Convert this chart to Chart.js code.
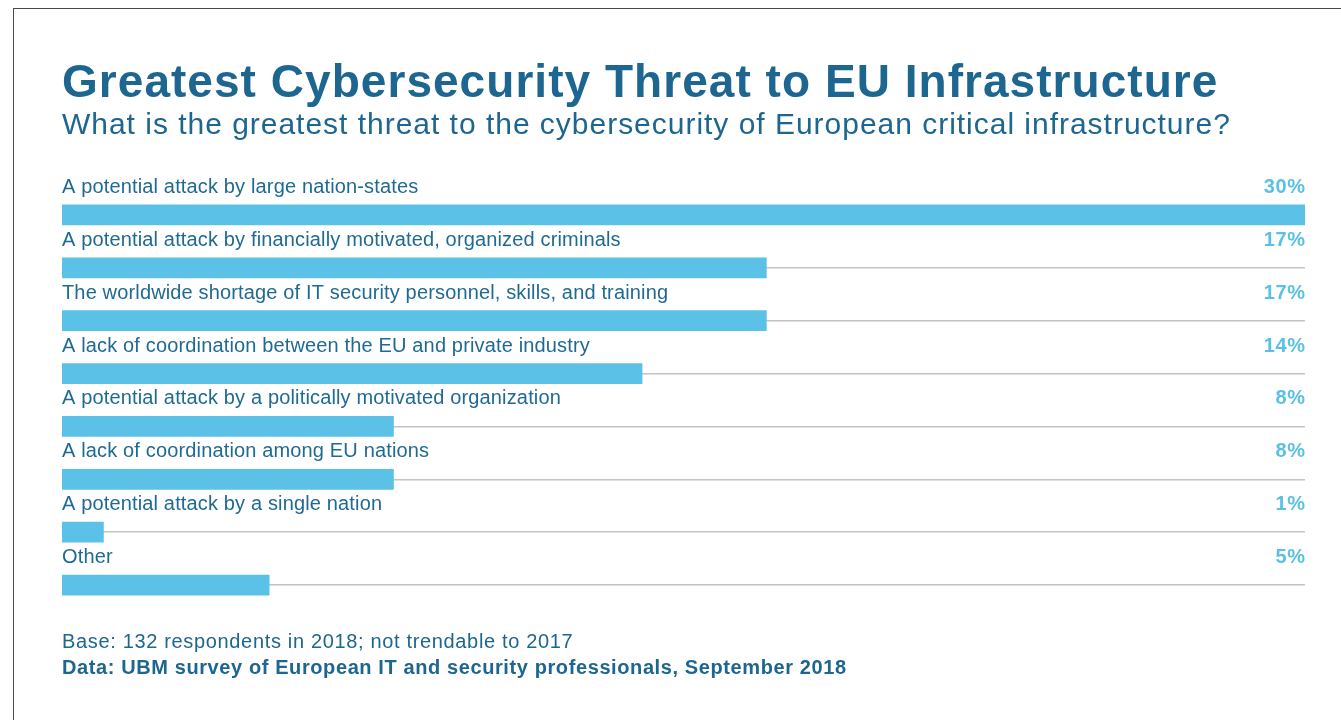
<!DOCTYPE html>
<html>
<head>
<meta charset="utf-8">
<script src="https://cdn.jsdelivr.net/npm/chart.js@4.4.1/dist/chart.umd.min.js"></script>
<style>
  html, body { margin: 0; padding: 0; background: #ffffff; }
  body { width: 1341px; height: 720px; position: relative; overflow: hidden;
         font-family: "Liberation Sans", Arial, Helvetica, sans-serif; }
  #frame { position: absolute; left: 13px; top: 8px; width: 1400px; height: 800px;
           border-left: 1px solid #4a4a4a; border-top: 1px solid #4a4a4a; }
  #chart { position: absolute; left: 0; top: 0; }
  .txt { position: absolute; left: 62px; white-space: nowrap; line-height: 1; margin: 0; color: #1d6690; }
  #title { top: 58px; font-size: 46px; font-weight: bold; letter-spacing: 1.04px; }
  #subtitle { top: 108.5px; font-size: 30px; letter-spacing: 0.98px; }
  #base { top: 631px; font-size: 20px; letter-spacing: 0.66px; }
  #source { top: 656.5px; font-size: 20px; font-weight: bold; letter-spacing: 0.6px; }
</style>
</head>
<body>
<div id="frame"></div>
<canvas id="chart" width="1341" height="720"></canvas>
<h1 class="txt" id="title">Greatest Cybersecurity Threat to EU Infrastructure</h1>
<div class="txt" id="subtitle">What is the greatest threat to the cybersecurity of European critical infrastructure?</div>
<div class="txt" id="base">Base: 132 respondents in 2018; not trendable to 2017</div>
<div class="txt" id="source">Data: UBM survey of European IT and security professionals, September 2018</div>
<script>
// Survey answers, in the order shown
const categories = [
  "A potential attack by large nation-states",
  "A potential attack by financially motivated, organized criminals",
  "The worldwide shortage of IT security personnel, skills, and training",
  "A lack of coordination between the EU and private industry",
  "A potential attack by a politically motivated organization",
  "A lack of coordination among EU nations",
  "A potential attack by a single nation",
  "Other"
];
// Share of respondents (%)
const shares = [30, 17, 17, 14, 8, 8, 1, 5];
const axisMax = 30;

const FONT = '"Liberation Sans", Arial, Helvetica, sans-serif';

// Category text above each bar, percentage at the right end of the row
const rowLabels = {
  id: 'rowLabels',
  afterDatasetsDraw(chart) {
    const ctx = chart.ctx;
    const area = chart.chartArea;
    const meta = chart.getDatasetMeta(0);
    ctx.save();
    ctx.textBaseline = 'alphabetic';
    meta.data.forEach((bar, i) => {
      const y = bar.y - 22;
      ctx.font = '20px ' + FONT;
      ctx.letterSpacing = '0.15px';
      ctx.fillStyle = '#1f6a94';
      ctx.textAlign = 'left';
      ctx.fillText(categories[i], area.left, y);
      ctx.font = 'bold 20px ' + FONT;
      ctx.letterSpacing = '0.6px';
      ctx.fillStyle = '#5bc0e6';
      ctx.textAlign = 'right';
      ctx.fillText(shares[i] + '%', area.right + 0.6, y);
    });
    ctx.restore();
  }
};

new Chart(document.getElementById('chart'), {
  type: 'bar',
  data: {
    labels: categories,
    datasets: [{
      data: shares,
      backgroundColor: '#5bc1e7',
      borderWidth: 0,
      barThickness: 20
    }]
  },
  options: {
    indexAxis: 'y',
    responsive: false,
    animation: false,
    layout: { padding: { left: 62, right: 36, top: 188.5, bottom: 108.5 } },
    plugins: { legend: { display: false }, tooltip: { enabled: false } },
    scales: {
      x: { display: false, min: 0, max: axisMax },
      y: {
        display: true,
        border: { display: false },
        ticks: { display: false },
        grid: { offset: false, drawTicks: false, color: '#c4c4c4', lineWidth: 1.5 }
      }
    }
  },
  plugins: [rowLabels]
});
</script>
</body>
</html>
